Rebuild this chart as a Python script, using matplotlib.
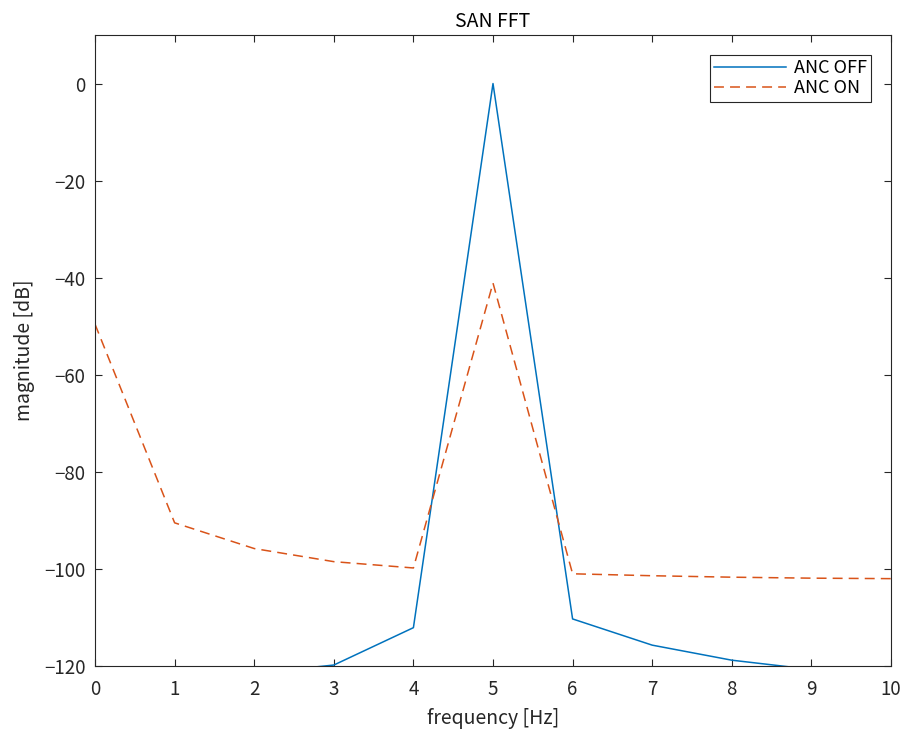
import numpy as np
import matplotlib.pyplot as plt

plt.rcParams['font.family'] = ['Noto Sans CJK JP', 'DejaVu Sans']

freq = [0, 1, 2, 3, 4, 5, 6, 7, 8, 9, 10]
anc_off = [-125.0, -124.0, -121.5, -119.8, -112.1, 0.0, -110.3, -115.7, -118.8, -120.7, -122.0]
anc_on = [-49.6, -90.5, -95.8, -98.5, -99.8, -41.1, -101.0, -101.4, -101.7, -101.9, -102.0]

fig = plt.figure(figsize=(9.06, 7.31), dpi=100)
ax = fig.add_axes([0.1049, 0.0889, 0.8785, 0.8632])

ax.plot(freq, anc_off, color='#0072BD', lw=1.1, label='ANC OFF')
ax.plot(freq, anc_on, color='#D95319', lw=1.1, ls=(0, (6.5, 4)), label='ANC ON')

ax.set_xlim(0, 10)
ax.set_ylim(-120, 10)
ax.set_xticks(range(0, 11))
ax.set_yticks(range(-120, 1, 20))
ax.tick_params(direction='in', top=True, right=True, length=5, labelsize=13.5,
               colors='#262626', width=0.8)
ax.tick_params(axis='x', pad=9)
ax.tick_params(axis='y', pad=7)
for s in ax.spines.values():
    s.set_color('#262626')
    s.set_linewidth(0.8)

ax.set_title('SAN FFT', fontsize=14, color='#000000', pad=6)
ax.set_xlabel('frequency [Hz]', fontsize=14, color='#262626', labelpad=6)
ax.set_ylabel('magnitude [dB]', fontsize=14, color='#262626', labelpad=6)

leg = ax.legend(loc='upper right', fontsize=13, fancybox=False, framealpha=1,
                edgecolor='#262626', handlelength=4, borderpad=0.25,
                labelspacing=0.1, handletextpad=0.4, borderaxespad=1.1)
leg.get_frame().set_linewidth(0.8)

fig.savefig('out.png', dpi=100)
